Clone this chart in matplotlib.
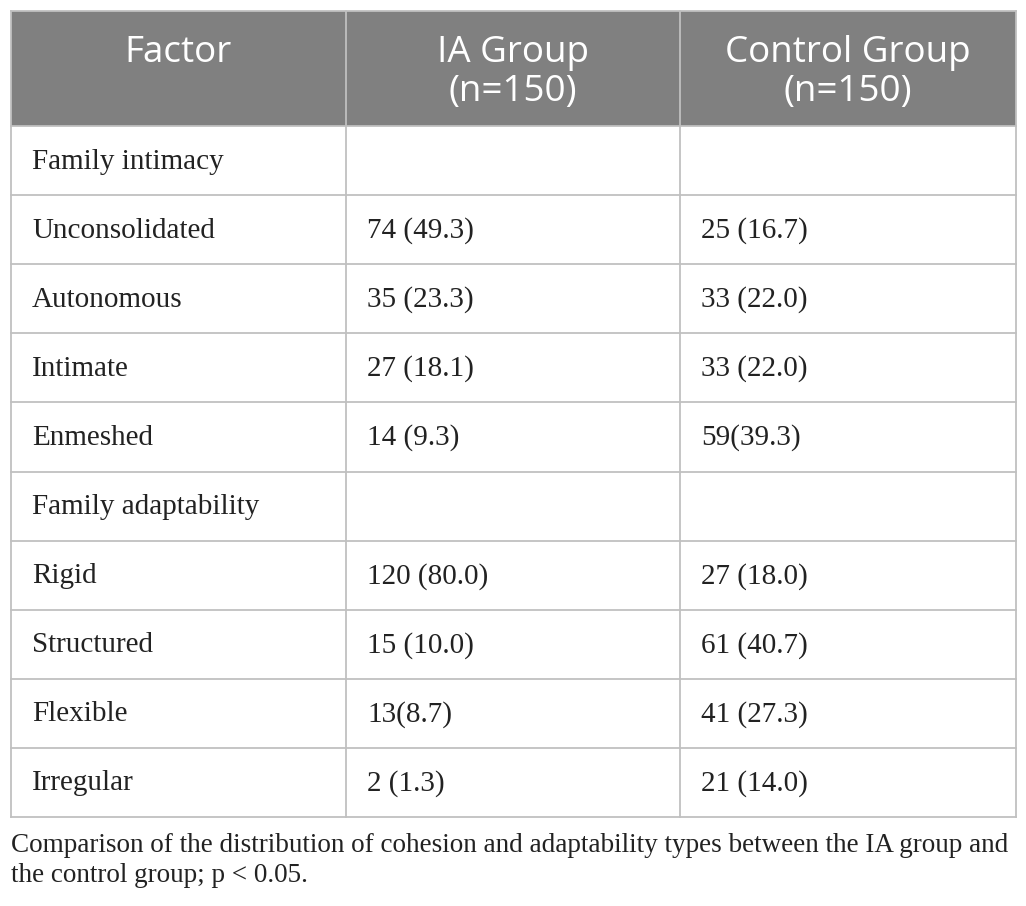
import matplotlib
matplotlib.use("Agg")
import matplotlib.pyplot as plt
from matplotlib.patches import Rectangle
from matplotlib.lines import Line2D

W, H = 1026, 906
headers = ["Factor", "IA Group\n(n=150)", "Control Group\n(n=150)"]
factors = ["Family intimacy", "Unconsolidated", "Autonomous", "Intimate", "Enmeshed",
           "Family adaptability", "Rigid", "Structured", "Flexible", "Irregular"]
ia_group = ["", "74 (49.3)", "35 (23.3)", "27 (18.1)", "14 (9.3)",
            "", "120 (80.0)", "15 (10.0)", "13(8.7)", "2 (1.3)"]
control_group = ["", "25 (16.7)", "33 (22.0)", "33 (22.0)", "59(39.3)",
                 "", "27 (18.0)", "61 (40.7)", "41 (27.3)", "21 (14.0)"]
caption_lines = ["Comparison of the distribution of cohesion and adaptability types between the IA group and",
                 "the control group; p < 0.05."]

fig = plt.figure(figsize=(W/100, H/100), dpi=100)
ax = fig.add_axes([0, 0, 1, 1])
ax.set_xlim(0, W)
ax.set_ylim(H, 0)
ax.axis("off")

left, right = 11, 1016
col_x = [11, 346, 680, 1016]
top, head_bot = 11, 126
row_h = 69.1
nrows = len(factors)
bottom = head_bot + row_h * nrows
line_c = "#c0c0c0"

ax.add_patch(Rectangle((left, top), right-left, head_bot-top, facecolor="#808080", edgecolor="none"))
for i in range(3):
    cx = (col_x[i] + col_x[i+1]) / 2
    for k, ln in enumerate(headers[i].split("\n")):
        ax.text(cx, 53 + 39*k, ln, ha="center", va="center", color="white",
                fontsize=26.5, family="Open Sans")

for i in range(nrows):
    cy = head_bot + row_h*(i+0.5) + 1
    for j, txt in enumerate([factors[i], ia_group[i], control_group[i]]):
        ax.text(col_x[j] + 21, cy, txt, ha="left", va="center", color="#222222",
                fontsize=21, family="Liberation Serif")

# lines
for x in col_x:
    ax.add_line(Line2D([x, x], [top, bottom], color=line_c, lw=1.3))
ax.add_line(Line2D([left, right], [top, top], color=line_c, lw=1.3))
for i in range(nrows+1):
    y = head_bot + row_h*i
    ax.add_line(Line2D([left, right], [y, y], color=line_c, lw=1.3))

for k, ln in enumerate(caption_lines):
    ax.text(11, 845 + 31*k, ln, ha="left", va="center", color="#222222", fontsize=19.5,
            family="Liberation Serif")

fig.savefig("out.png", dpi=100)
